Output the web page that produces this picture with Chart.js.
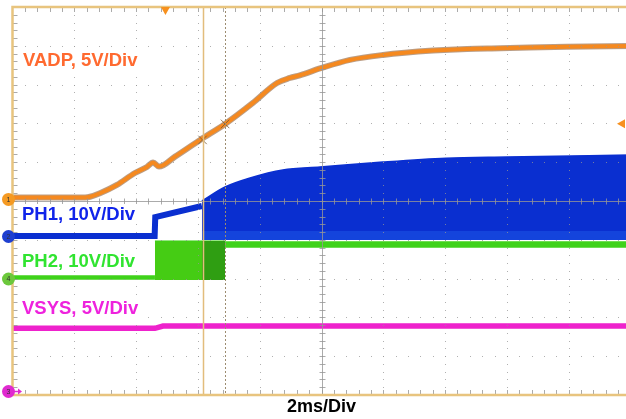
<!DOCTYPE html>
<html><head><meta charset="utf-8">
<script src="https://cdn.jsdelivr.net/npm/chart.js@4/dist/chart.umd.min.js"></script>
<style>
html,body{margin:0;padding:0;background:#fff;overflow:hidden}
#wrap{width:626px;height:419px;overflow:hidden;position:relative}
canvas{display:block}
</style></head><body>
<div id="wrap"><canvas id="c" width="640" height="419" style="width:640px;height:419px"></canvas></div>
<script>
// ---- time base / screen ----
const timeDivs = [0, 2, 4, 6, 8, 10, 12, 14, 16, 18, 20]; // ms, 2 ms/Div
const screenDivs = [0, 1, 2, 3, 4, 5, 6, 7, 8, 9, 10];

// ---- channel settings (V/div, ground level in divisions) ----
const ch1Scale = 5,  ch1Ground = 5.04;   // VADP
const ch2Scale = 10, ch2Ground = 4.085;  // PH1
const ch4Scale = 10, ch4Ground = 2.99;   // PH2
const ch3Scale = 5,  ch3Ground = 0.09;   // VSYS

// ---- VADP (CH1) ----
const vadpTime  = [0, 2.35, 2.51, 2.83, 3.38, 3.96, 4.35, 4.55, 4.74, 5.26, 6.07, 6.88, 7.78, 8.56, 8.98, 9.30, 9.98, 10.92, 11.99, 13.61, 14.71, 15.78, 17.94, 20];
const vadpVolts = [0.26, 0.26, 0.35, 0.80, 1.87, 3.41, 4.19, 4.77, 4.23, 5.52, 7.67, 9.73, 12.44, 15.01, 15.66, 16.0, 16.91, 17.98, 18.62, 19.18, 19.40, 19.48, 19.69, 19.78];

// ---- PH1 (CH2) ----
const ph1Time  = [0, 4.60, 4.62, 6.13];
const ph1Volts = [0.1, 0.1, 5.0, 7.86];
const ph1EnvTime = [6.13, 6.88, 7.69, 8.75, 9.95, 11.99, 14.03, 16.0, 20];
const ph1EnvHigh = [9.15, 12.76, 15.08, 17.14, 17.9, 19.2, 20.2, 20.5, 21.0];
const ph1EnvLow = -0.9;
const ph1BandHigh = 1.4;

// ---- PH2 (CH4) ----
const ph2OffTime = [0, 4.61];
const ph2OffVolts = [0.39, 0.39];
const ph2SwTime = [4.61, 6.88];
const ph2SwHigh = 9.8, ph2SwLow = -0.26;
const ph2DenseTime = [6.13, 6.88];
const ph2OnTime = [6.88, 20];
const ph2OnVolts = [8.89, 8.89];

// ---- VSYS (CH3) ----
const vsysTime  = [0, 4.61, 4.87, 20];
const vsysVolts = [8.14, 8.14, 8.44, 8.44];

// ---- cursors (ms) ----
const cursorA = 6.15, cursorB = 6.88;
const cursorHits = [[6.15, 7.67], [6.88, 9.73]]; // [ms, VADP volts]
const triggerTime = 4.95;   // ms
const triggerLevel = 9.75;  // V on CH1

const FONT = '"Liberation Sans", Arial, Helvetica, sans-serif';

const toDiv = (v, s, g) => g + v / s;
const pts = (t, v, s, g) => t.map((tt, i) => ({x: tt, y: toDiv(Array.isArray(v) ? v[i] : v, s, g)}));

const ORANGE = '#f5891f', BLUE = '#0a2fd0', GREEN = '#3fd21a', MAG = '#ee22cc';

const base = {pointRadius: 0, tension: 0, spanGaps: true};

const datasets = [
  // VADP
  Object.assign({}, base, {label: 'VADP', order: 1, data: pts(vadpTime, vadpVolts, ch1Scale, ch1Ground),
    borderColor: ORANGE, borderWidth: 4, cubicInterpolationMode: 'monotone', fill: false}),
  Object.assign({}, base, {label: 'VADP edge', order: 2, data: pts(vadpTime, vadpVolts, ch1Scale, ch1Ground),
    borderColor: 'rgba(120,60,10,0.5)', borderWidth: 6, cubicInterpolationMode: 'monotone', fill: false}),
  // cursor hits
  {type: 'scatter', label: 'hits', order: 0, data: cursorHits.map(p => ({x: p[0], y: toDiv(p[1], ch1Scale, ch1Ground)})),
    pointStyle: 'crossRot', pointRadius: 6, borderColor: 'rgba(120,90,50,0.8)', borderWidth: 1, backgroundColor: 'transparent'},
  // PH1
  Object.assign({}, base, {label: 'PH1', order: 5, data: pts(ph1Time, ph1Volts, ch2Scale, ch2Ground),
    borderColor: BLUE, borderWidth: 6, fill: false}),
  Object.assign({}, base, {label: 'PH1 band', order: 5, data: pts([ph1EnvTime[0], ph1EnvTime[ph1EnvTime.length-1]], ph1BandHigh, ch2Scale, ch2Ground),
    borderColor: '#1444dc', borderWidth: 0, backgroundColor: '#1444dc', fill: {value: toDiv(ph1EnvLow, ch2Scale, ch2Ground)}}),
  Object.assign({}, base, {label: 'PH1 sw', order: 6, data: pts(ph1EnvTime, ph1EnvHigh, ch2Scale, ch2Ground),
    borderColor: BLUE, borderWidth: 1.5, backgroundColor: BLUE, cubicInterpolationMode: 'monotone',
    fill: {value: toDiv(ph1EnvLow, ch2Scale, ch2Ground)}}),
  // PH2
  Object.assign({}, base, {label: 'PH2 off', order: 7, data: pts(ph2OffTime, ph2OffVolts, ch4Scale, ch4Ground),
    borderColor: GREEN, borderWidth: 4.5, fill: false}),
  Object.assign({}, base, {label: 'PH2 dense', order: 7, data: pts(ph2DenseTime, ph2SwHigh, ch4Scale, ch4Ground),
    borderColor: '#2f9e12', borderWidth: 0, backgroundColor: '#2f9e12', fill: {value: toDiv(ph2SwLow, ch4Scale, ch4Ground)}}),
  Object.assign({}, base, {label: 'PH2 sw', order: 8, data: pts(ph2SwTime, ph2SwHigh, ch4Scale, ch4Ground),
    borderColor: GREEN, borderWidth: 1, backgroundColor: '#45cc14', fill: {value: toDiv(ph2SwLow, ch4Scale, ch4Ground)}}),
  Object.assign({}, base, {label: 'PH2 on', order: 7, data: pts(ph2OnTime, ph2OnVolts, ch4Scale, ch4Ground),
    borderColor: GREEN, borderWidth: 6.5, fill: false}),
  // VSYS
  Object.assign({}, base, {label: 'VSYS', order: 4, data: pts(vsysTime, vsysVolts, ch3Scale, ch3Ground),
    borderColor: MAG, borderWidth: 5.5, fill: false})
];

const labels = [
  {text: 'VADP, 5V/Div', color: '#ff6a30', x: 23, y: 60},
  {text: 'PH1, 10V/Div', color: '#1024ea', x: 22, y: 214},
  {text: 'PH2, 10V/Div', color: '#30e430', x: 22, y: 261},
  {text: 'VSYS, 5V/Div', color: '#ee22dd', x: 22, y: 308}
];

const scopePlugin = {
  id: 'scope',
  afterDatasetsDraw(chart) {
    const {ctx, chartArea: a, scales: {x, y}} = chart;
    ctx.save();
    // dotted graticule
    ctx.fillStyle = 'rgba(150,150,150,0.75)';
    timeDivs.forEach((t, i) => {
      if (i === 0 || i === 5 || i === 10) return;
      const px = Math.round(x.getPixelForValue(t));
      for (let j = 1; j < 50; j++) ctx.fillRect(px, Math.round(y.getPixelForValue(j * 0.2)), 1, 1);
    });
    screenDivs.forEach((d, i) => {
      if (i === 0 || i === 5 || i === 10) return;
      const py = Math.round(y.getPixelForValue(d));
      for (let j = 1; j < 50; j++) ctx.fillRect(Math.round(x.getPixelForValue(j * 0.4)), py, 1, 1);
    });
    // centre axes
    const cx = Math.round(x.getPixelForValue(10)) + 0.5, cy = Math.round(y.getPixelForValue(5)) + 0.5;
    ctx.strokeStyle = 'rgba(160,160,160,0.7)';
    ctx.lineWidth = 1;
    ctx.beginPath();
    ctx.moveTo(cx, a.top); ctx.lineTo(cx, a.bottom);
    ctx.moveTo(a.left, cy); ctx.lineTo(a.right, cy);
    for (let j = 1; j < 50; j++) {
      const tx = Math.round(x.getPixelForValue(j * 0.4)) + 0.5;
      ctx.moveTo(tx, cy - 3); ctx.lineTo(tx, cy + 3);
      const ty = Math.round(y.getPixelForValue(j * 0.2)) + 0.5;
      ctx.moveTo(cx - 3, ty); ctx.lineTo(cx + 3, ty);
    }
    // border ticks
    ctx.strokeStyle = 'rgba(150,150,150,0.8)';
    for (let j = 1; j < 50; j++) {
      const tx = Math.round(x.getPixelForValue(j * 0.4)) + 0.5;
      ctx.moveTo(tx, a.top); ctx.lineTo(tx, a.top + 5);
      ctx.moveTo(tx, a.bottom); ctx.lineTo(tx, a.bottom - 5);
      const ty = Math.round(y.getPixelForValue(j * 0.2)) + 0.5;
      ctx.moveTo(a.left, ty); ctx.lineTo(a.left + 5, ty);
    }
    ctx.stroke();
    // cursors
    const ca = Math.round(x.getPixelForValue(cursorA)) + 0.5;
    ctx.strokeStyle = '#e2bd7c'; ctx.lineWidth = 1.5;
    ctx.beginPath(); ctx.moveTo(ca, a.top); ctx.lineTo(ca, a.bottom); ctx.stroke();
    const cb = Math.round(x.getPixelForValue(cursorB)) + 0.5;
    ctx.strokeStyle = '#9c8c70'; ctx.lineWidth = 1; ctx.setLineDash([2, 2]);
    ctx.beginPath(); ctx.moveTo(cb, a.top); ctx.lineTo(cb, a.bottom); ctx.stroke();
    ctx.setLineDash([]);
    // border
    ctx.strokeStyle = '#e8c47e'; ctx.lineWidth = 2.5;
    ctx.beginPath();
    ctx.moveTo(a.right + 2, a.top); ctx.lineTo(a.left, a.top); ctx.lineTo(a.left, a.bottom); ctx.lineTo(a.right + 2, a.bottom);
    ctx.stroke();
    // trigger position marker
    const tp = x.getPixelForValue(triggerTime);
    ctx.fillStyle = '#f7901e';
    ctx.beginPath(); ctx.moveTo(tp - 4.5, a.top); ctx.lineTo(tp + 4.5, a.top); ctx.lineTo(tp, a.top + 8); ctx.closePath(); ctx.fill();
    // trigger level marker
    const tl = y.getPixelForValue(toDiv(triggerLevel, ch1Scale, ch1Ground));
    ctx.beginPath(); ctx.moveTo(617, tl); ctx.lineTo(625, tl - 4.5); ctx.lineTo(625, tl + 4.5); ctx.closePath(); ctx.fill();
    // channel ground markers
    const marks = [
      {n: '1', g: ch1Ground, c: '#f59a23'},
      {n: '2', g: ch2Ground, c: '#1f3fd0'},
      {n: '4', g: ch4Ground, c: '#6cc83c'},
      {n: '3', g: ch3Ground, c: '#e02ad0'}
    ];
    marks.forEach(m => {
      const my = y.getPixelForValue(m.g);
      ctx.fillStyle = m.c;
      ctx.beginPath(); ctx.arc(8.5, my, 6.5, 0, Math.PI * 2); ctx.fill();
      if (m.n === '3') {
        ctx.strokeStyle = m.c; ctx.lineWidth = 1.5;
        ctx.beginPath(); ctx.moveTo(14, my); ctx.lineTo(20, my); ctx.stroke();
        ctx.beginPath(); ctx.moveTo(22, my); ctx.lineTo(18, my - 3); ctx.lineTo(18, my + 3); ctx.closePath(); ctx.fill();
      }
      ctx.fillStyle = '#333';
      ctx.font = '7px ' + FONT;
      ctx.textAlign = 'center'; ctx.textBaseline = 'middle';
      ctx.fillText(m.n, 8.5, my + 0.5);
    });
    // channel labels
    ctx.font = 'bold 18.5px ' + FONT;
    ctx.textAlign = 'left'; ctx.textBaseline = 'middle';
    labels.forEach(l => {
      const w = ctx.measureText(l.text).width;
      ctx.fillStyle = '#fff';
      ctx.fillRect(l.x - 2, l.y - 10, w + 4, 20);
      ctx.fillStyle = l.color;
      ctx.fillText(l.text, l.x, l.y + 1);
    });
    ctx.restore();
  }
};

new Chart(document.getElementById('c'), {
  type: 'line',
  data: {datasets},
  options: {
    responsive: false,
    animation: false,
    devicePixelRatio: 1,
    layout: {padding: {left: 12.5, right: 9.5, top: 7, bottom: 0}},
    scales: {
      x: {type: 'linear', min: timeDivs[0], max: timeDivs[timeDivs.length - 1], display: false},
      y: {type: 'linear', min: screenDivs[0], max: screenDivs[screenDivs.length - 1], display: false}
    },
    plugins: {
      legend: {display: false},
      tooltip: {enabled: false},
      title: {display: true, position: 'bottom', text: '2ms/Div', color: '#000',
        font: {size: 18, weight: 'bold', family: FONT}, padding: {top: 1.4, bottom: 1}}
    }
  },
  plugins: [scopePlugin]
});
</script>
</body></html>
